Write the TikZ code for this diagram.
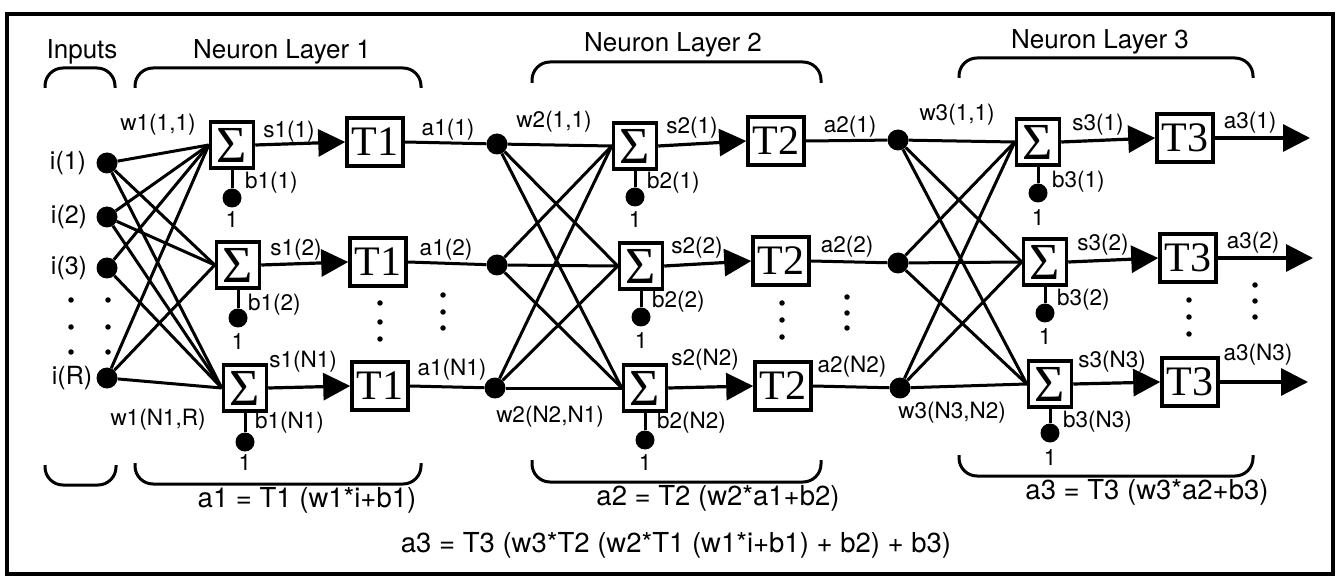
\documentclass[tikz,border=0pt]{standalone}
\usepackage{fontspec}
\setmainfont{TeX Gyre Heros}
\newfontfamily\tms{Liberation Serif}
\usetikzlibrary{arrows.meta}
\begin{document}
\begin{tikzpicture}[x=1pt,y=-1pt,
  sumbox/.style={draw,line width=3.5pt,minimum width=43pt,minimum height=46pt,inner sep=0pt,font=\tms\fontsize{52}{52}\selectfont},
  tbox/.style={draw,line width=3.5pt,minimum width=56pt,minimum height=48pt,inner sep=0pt,font=\tms\fontsize{42}{42}\selectfont},
  bigdot/.style={circle,fill,minimum size=21pt,inner sep=0pt},
  biasdot/.style={circle,fill,minimum size=19pt,inner sep=0pt},
  lbl/.style={font=\fontsize{22.5}{24}\selectfont,inner sep=0pt},
  ilbl/.style={font=\fontsize{25}{28}\selectfont,inner sep=0pt},
  ttl/.style={font=\fontsize{26}{28}\selectfont,inner sep=0pt},
  fml/.style={font=\fontsize{27.5}{30}\selectfont,inner sep=0pt},
  conn/.style={line width=3pt},
  arr/.style={line width=3.2pt,-{Triangle[length=27pt,width=27pt]}},
  brk/.style={line width=3pt,rounded corners=18pt},
  frame/.style={line width=3.5pt},
  edot/.style={circle,fill,minimum size=5.5pt,inner sep=0pt}
]
\useasboundingbox (0,0) rectangle (1336,577);
\draw[frame] (7,14) rectangle (1333,574);

% titles and brackets
\node[ttl] (tin) at (82,52) {Inputs};
\node[ttl] (tl1) at (282,52) {Neuron Layer 1};
\node[ttl] (tl2) at (673,45) {Neuron Layer 2};
\node[ttl] (tl3) at (1100,42) {Neuron Layer 3};
\draw[brk] (45,88) -- (45,68) -- (115,68) -- (115,88);
\draw[brk] (135,88) -- (135,68) -- (421,68) -- (421,88);
\draw[brk] (532,83) -- (532,62) -- (821,62) -- (821,83);
\draw[brk] (959,78) -- (959,58) -- (1253,58) -- (1253,78);
\draw[brk] (45,465) -- (45,485) -- (116,485) -- (116,465);
\draw[brk] (135,463) -- (135,484) -- (421,484) -- (421,463);
\draw[brk] (532,460) -- (532,482) -- (821,482) -- (821,460);
\draw[brk] (959,455) -- (959,476) -- (1253,476) -- (1253,455);
\node[fml] (f1) at (307,500) {a1 = T1 (w1*i+b1)};
\node[fml] (f2) at (718,498) {a2 = T2 (w2*a1+b2)};
\node[fml] (f3) at (1147,492) {a3 = T3 (w3*a2+b3)};
\node[fml] (f4) at (676,545) {a3 = T3 (w3*T2 (w2*T1 (w1*i+b1) + b2) + b3)};

% inputs
\node[bigdot] (i1) at (107,163) {};
\node[bigdot] (i2) at (107,217) {};
\node[bigdot] (i3) at (107,268) {};
\node[bigdot] (iR) at (107,378) {};
\node[ilbl] (li1) at (68,163) {i(1)};
\node[ilbl] (li2) at (69,217) {i(2)};
\node[ilbl] (li3) at (69,268) {i(3)};
\node[ilbl] (liR) at (72,378) {i(R)};
\foreach \xx in {71,108}{\foreach \yy in {300,327,352}{\node[edot] at (\xx,\yy) {};}}

% layer 1
\node[sumbox] (S11) at (232,145) {Σ};
\node[sumbox] (S12) at (238,265) {Σ};
\node[sumbox] (S13) at (245,388) {Σ};
\node[tbox] (T11) at (375,142) {T1};
\node[tbox] (T12) at (378,262) {T1};
\node[tbox] (T13) at (380,386) {T1};
\node[bigdot] (A11) at (497,144) {};
\node[bigdot] (A12) at (497,265) {};
\node[bigdot] (A13) at (495,388) {};
\node[biasdot] (B11) at (232,198) {};
\node[biasdot] (B12) at (238,318) {};
\node[biasdot] (B13) at (245,442) {};

% layer 2
\node[sumbox] (S21) at (635,146) {Σ};
\node[sumbox] (S22) at (641,266) {Σ};
\node[sumbox] (S23) at (645,388) {Σ};
\node[tbox] (T21) at (776,141) {T2};
\node[tbox] (T22) at (781,261) {T2};
\node[tbox] (T23) at (783,386) {T2};
\node[bigdot] (A21) at (898,140) {};
\node[bigdot] (A22) at (898,263) {};
\node[bigdot] (A23) at (900,388) {};
\node[biasdot] (B21) at (635,197) {};
\node[biasdot] (B22) at (641,317) {};
\node[biasdot] (B23) at (645,440) {};

% layer 3
\node[sumbox] (S31) at (1038,142) {Σ};
\node[sumbox] (S32) at (1045,262) {Σ};
\node[sumbox] (S33) at (1050,384) {Σ};
\node[tbox] (T31) at (1185,138) {T3};
\node[tbox] (T32) at (1188,258) {T3};
\node[tbox] (T33) at (1190,382) {T3};
\coordinate (o1) at (1310,138);
\coordinate (o2) at (1313,258);
\coordinate (o3) at (1308,382);
\node[biasdot] (B31) at (1038,193) {};
\node[biasdot] (B32) at (1045,313) {};
\node[biasdot] (B33) at (1050,433) {};

% input connections
\foreach \s in {S11,S12,S13}{
  \draw[conn] (i1) -- (\s.west);
  \draw[conn] (i2) -- (\s.west);
  \draw[conn] (iR) -- (\s.west);
}
\draw[conn] (i3) -- (S11.west);
\draw[conn] (i3) -- (S13.west);

% layer 2 and 3 cross connections
\foreach \a in {A11,A12,A13}{\foreach \s in {S21,S22,S23}{\draw[conn] (\a) -- (\s.west);}}
\foreach \a in {A21,A22,A23}{\foreach \s in {S31,S32,S33}{\draw[conn] (\a) -- (\s.west);}}

% sum to transfer arrows, outputs
\foreach \r in {1,2,3}{
  \draw[arr] (S1\r.east) -- (T1\r.west);
  \draw[arr] (S2\r.east) -- (T2\r.west);
  \draw[arr] (S3\r.east) -- (T3\r.west);
  \draw[conn] (T1\r.east) -- (A1\r);
  \draw[conn] (T2\r.east) -- (A2\r);
  \draw[arr] (T3\r.east) -- (o\r);
  \draw[conn] (S1\r.south) -- (B1\r);
  \draw[conn] (S2\r.south) -- (B2\r);
  \draw[conn] (S3\r.south) -- (B3\r);
}

% "1" labels under bias dots
\node[lbl] (one11) at (232,220) {1};
\node[lbl] (one12) at (238,342) {1};
\node[lbl] (one13) at (245,463) {1};
\node[lbl] (one21) at (635,220) {1};
\node[lbl] (one22) at (641,341) {1};
\node[lbl] (one23) at (645,463) {1};
\node[lbl] (one31) at (1038,218) {1};
\node[lbl] (one32) at (1045,337) {1};
\node[lbl] (one33) at (1050,458) {1};

% bias labels
\node[lbl,anchor=west] (lb11) at (245,183) {b1(1)};
\node[lbl,anchor=west] (lb12) at (248,305) {b1(2)};
\node[lbl,anchor=west] (lb13) at (255,423) {b1(N1)};
\node[lbl,anchor=west] (lb21) at (647,183) {b2(1)};
\node[lbl,anchor=west] (lb22) at (652,302) {b2(2)};
\node[lbl,anchor=west] (lb23) at (657,423) {b2(N2)};
\node[lbl,anchor=west] (lb31) at (1052,182) {b3(1)};
\node[lbl,anchor=west] (lb32) at (1057,300) {b3(2)};
\node[lbl,anchor=west] (lb33) at (1063,422) {b3(N3)};

% weight labels
\node[lbl] (w1a) at (158,125) {w1(1,1)};
\node[lbl] (w1b) at (158,420) {w1(N1,R)};
\node[lbl] (w2a) at (554,122) {w2(1,1)};
\node[lbl] (w2b) at (550,417) {w2(N2,N1)};
\node[lbl] (w3a) at (957,115) {w3(1,1)};
\node[lbl] (w3b) at (952,413) {w3(N3,N2)};

% s labels
\node[lbl] (s11) at (289,132) {s1(1)};
\node[lbl] (s12) at (296,250) {s1(2)};
\node[lbl] (s13) at (303,362) {s1(N1)};
\node[lbl] (s21) at (692,128) {s2(1)};
\node[lbl] (s22) at (697,248) {s2(2)};
\node[lbl] (s23) at (705,360) {s2(N2)};
\node[lbl] (s31) at (1098,125) {s3(1)};
\node[lbl] (s32) at (1103,245) {s3(2)};
\node[lbl] (s33) at (1112,362) {s3(N3)};

% a labels
\node[lbl] (a11) at (448,130) {a1(1)};
\node[lbl] (a12) at (446,250) {a1(2)};
\node[lbl] (a13) at (452,370) {a1(N1)};
\node[lbl] (a21) at (850,127) {a2(1)};
\node[lbl] (a22) at (847,247) {a2(2)};
\node[lbl] (a23) at (852,367) {a2(N2)};
\node[lbl] (a31) at (1250,123) {a3(1)};
\node[lbl] (a32) at (1253,243) {a3(2)};
\node[lbl] (a33) at (1258,355) {a3(N3)};

% vertical ellipses between rows
\foreach \xx/\ya/\yb/\yc in {380/303/322/339, 443/295/312/328, 782/303/320/337, 847/297/313/328, 1189/300/317/334, 1255/285/301/317}{
  \node[edot] at (\xx,\ya) {};
  \node[edot] at (\xx,\yb) {};
  \node[edot] at (\xx,\yc) {};
}
\end{tikzpicture}
\end{document}
